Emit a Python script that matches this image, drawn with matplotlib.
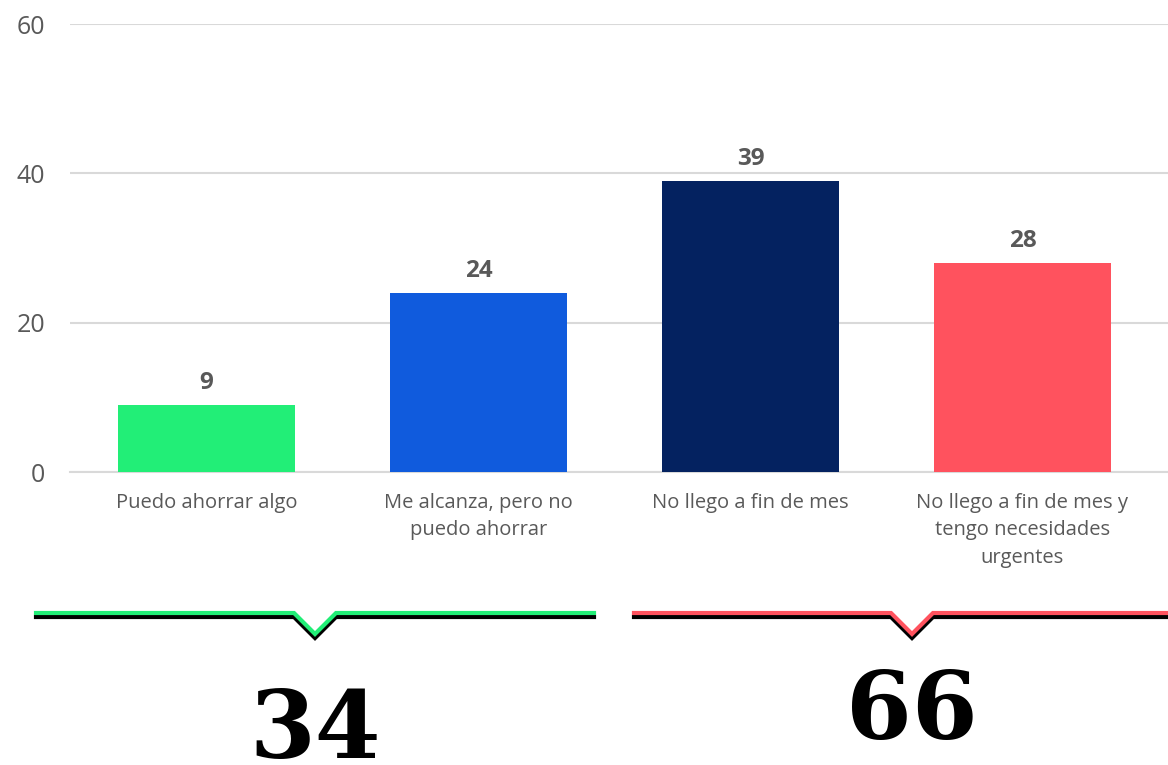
import matplotlib
matplotlib.use("Agg")
import matplotlib.pyplot as plt

W, H, DPI = 1168, 765, 100

CATEGORIES = [
    "Puedo ahorrar algo",
    "Me alcanza, pero no\npuedo ahorrar",
    "No llego a fin de mes",
    "No llego a fin de mes y\ntengo necesidades\nurgentes",
]
VALUES = [9, 24, 39, 28]
BAR_COLORS = ["#22ee77", "#105bdd", "#042260", "#ff525e"]
Y_TICKS = [0, 20, 40, 60]

GROUP_TOTALS = [34, 66]
GROUP_COLORS = ["#22ee77", "#ff525e"]

TEXT_GRAY = "#595959"
GRID_GRAY = "#d9d9d9"

# bracket geometry in figure pixels (x0, x1, notch x)
BRACKETS = [(36, 594, 315), (634, 1168, 912)]
BRACKET_Y = 613
NOTCH_HALF = 21
NOTCH_DEPTH = 21
SHADOW_DY = 4
TOTAL_Y = [732, 713]

plt.rcParams["font.family"] = ["Open Sans", "DejaVu Sans"]

fig = plt.figure(figsize=(W / DPI, H / DPI), dpi=DPI)
ax = fig.add_axes([70 / W, 1 - 472 / H, 1 - 70 / W, 448 / H])

x = list(range(len(CATEGORIES)))
bars = ax.bar(x, VALUES, width=0.65, color=BAR_COLORS, zorder=3)
for b, v in zip(bars, VALUES):
    ax.annotate(str(v), (b.get_x() + b.get_width() / 2, v), xytext=(0, 7),
                textcoords="offset points", ha="center", va="bottom",
                fontsize=17.5, fontweight="bold", color=TEXT_GRAY)

ax.set_xlim(-0.502, 3.535)
ax.set_ylim(0, 60)
ax.set_yticks(Y_TICKS)
ax.set_xticks(x)
ax.set_xticklabels(CATEGORIES, fontsize=14.5, color=TEXT_GRAY, linespacing=1.5)
ax.tick_params(axis="y", length=0, pad=18, labelsize=18, labelcolor=TEXT_GRAY)
ax.tick_params(axis="x", length=0, pad=15)
ax.grid(axis="y", color=GRID_GRAY, linewidth=1.5, zorder=0)
for side in ("top", "right", "left"):
    ax.spines[side].set_visible(False)
ax.spines["bottom"].set_color(GRID_GRAY)
ax.spines["bottom"].set_linewidth(1.5)

# overlay for the group brackets and totals
ov = fig.add_axes([0, 0, 1, 1])
ov.set_xlim(0, W)
ov.set_ylim(H, 0)
ov.axis("off")
ov.patch.set_alpha(0)

for (x0, x1, xn), color in zip(BRACKETS, GROUP_COLORS):
    xs = [x0, xn - NOTCH_HALF, xn, xn + NOTCH_HALF, x1]
    ys = [BRACKET_Y, BRACKET_Y, BRACKET_Y + NOTCH_DEPTH, BRACKET_Y, BRACKET_Y]
    ov.plot(xs, [y + SHADOW_DY for y in ys], color="black", linewidth=3,
            solid_joinstyle="miter", zorder=1)
    ov.plot(xs, ys, color=color, linewidth=3, solid_joinstyle="miter", zorder=2)

for (x0, x1, xn), total, ty in zip(BRACKETS, GROUP_TOTALS, TOTAL_Y):
    ov.text(xn, ty, str(total), ha="center", va="center", family="DejaVu Serif",
            fontweight="bold", fontsize=68, color="black")

fig.savefig("out.png", dpi=DPI)
